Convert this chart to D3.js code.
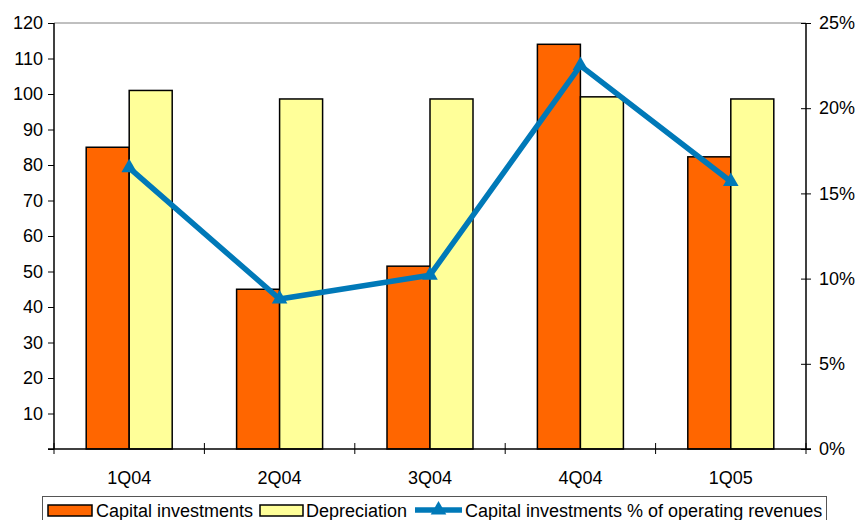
<!DOCTYPE html>
<html>
<head>
<meta charset="utf-8">
<script src="https://cdn.jsdelivr.net/npm/d3@7/dist/d3.min.js"></script>
<style>
  html, body { margin: 0; padding: 0; background: #fff; }
  svg { display: block; font-family: "Liberation Sans", Arial, sans-serif; }
</style>
</head>
<body>
<svg id="chart" width="857" height="520"></svg>
<script>
// Quarterly figures
const quarters = ["1Q04", "2Q04", "3Q04", "4Q04", "1Q05"];
const capitalInvestments = [85, 45, 51.5, 114, 82.3];
const depreciation = [101, 98.6, 98.6, 99.2, 98.6];
const capexPctRevenue = [16.5, 8.8, 10.2, 22.5, 15.7];
const leftTicks = [10, 20, 30, 40, 50, 60, 70, 80, 90, 100, 110, 120];
const rightTicks = [0, 5, 10, 15, 20, 25];

const seriesNames = ["Capital investments", "Depreciation", "Capital investments % of operating revenues"];
const colors = { capex: "#FF6600", dep: "#FFFF99", line: "#0079B8" };
const fs = 18;

const svg = d3.select("#chart");
const plotL = 54, plotR = 806, plotT = 23, plotB = 449;

const x = d3.scaleBand().domain(quarters).range([plotL, plotR]).paddingInner(0).paddingOuter(0);
const barW = 43;
const yL = d3.scaleLinear().domain([0, 120]).range([plotB, plotT]);
const yR = d3.scaleLinear().domain([0, 25]).range([plotB, plotT]);

// plot frame top line
svg.append("line").attr("x1", plotL).attr("x2", plotR).attr("y1", plotT).attr("y2", plotT)
  .attr("stroke", "#808080").attr("stroke-width", 1);

// bars
const g = svg.append("g");
quarters.forEach((q, i) => {
  const cx = x(q) + x.bandwidth() / 2;
  g.append("rect").attr("x", cx - barW).attr("width", barW)
    .attr("y", yL(capitalInvestments[i])).attr("height", yL(0) - yL(capitalInvestments[i]))
    .attr("fill", colors.capex).attr("stroke", "#000").attr("stroke-width", 1.5);
  g.append("rect").attr("x", cx).attr("width", barW)
    .attr("y", yL(depreciation[i])).attr("height", yL(0) - yL(depreciation[i]))
    .attr("fill", colors.dep).attr("stroke", "#000").attr("stroke-width", 1.5);
});

// left axis
const axL = svg.append("g").attr("transform", `translate(${plotL},0)`)
  .call(d3.axisLeft(yL).tickValues([0].concat(leftTicks)).tickSize(6).tickPadding(5)
    .tickFormat(d => d === 0 ? "" : d));
axL.selectAll("text").attr("font-size", fs).attr("fill", "#000").attr("font-family", "Liberation Sans, Arial, sans-serif");
axL.select(".domain").attr("stroke", "#000").attr("stroke-width", 1.5).attr("d", `M0,${plotT}V${plotB}`);
axL.selectAll(".tick line").attr("stroke", "#000");

// right axis
const axR = svg.append("g").attr("transform", `translate(${plotR},0)`)
  .call(d3.axisRight(yR).tickValues(rightTicks).tickSize(5).tickPadding(8).tickFormat(d => d + "%"));
axR.selectAll("text").attr("font-size", fs).attr("fill", "#000").attr("font-family", "Liberation Sans, Arial, sans-serif");
axR.select(".domain").attr("stroke", "#000").attr("stroke-width", 1.5).attr("d", `M0,${plotT}V${plotB}`);
axR.selectAll(".tick line").attr("stroke", "#000").attr("x1", -5);

// bottom axis
const axB = svg.append("g").attr("transform", `translate(0,${plotB})`);
axB.append("line").attr("x1", plotL - 6).attr("x2", plotR + 5).attr("stroke", "#000").attr("stroke-width", 1.5);
const bounds = quarters.map(q => x(q)).concat([plotR]);
axB.selectAll("line.tk").data(bounds).join("line").attr("class", "tk")
  .attr("x1", d => d).attr("x2", d => d).attr("y1", -6).attr("y2", 5)
  .attr("stroke", "#000").attr("stroke-width", 1);
axB.selectAll("text").data(quarters).join("text")
  .attr("x", d => x(d) + x.bandwidth() / 2).attr("y", 35)
  .attr("text-anchor", "middle").attr("font-size", fs).text(d => d);

// percentage line
const pts = quarters.map((q, i) => [x(q) + x.bandwidth() / 2, yR(capexPctRevenue[i])]);
svg.append("path").attr("d", d3.line()(pts)).attr("fill", "none")
  .attr("stroke", colors.line).attr("stroke-width", 5.5).attr("stroke-linejoin", "miter");
const tri = d3.symbol().type(d3.symbolTriangle).size(105);
svg.selectAll("path.mk").data(pts).join("path").attr("class", "mk")
  .attr("d", tri).attr("transform", d => `translate(${d[0]},${d[1]})`).attr("fill", colors.line);

// legend
const lg = svg.append("g");
lg.append("rect").attr("x", 42.5).attr("y", 496.5).attr("width", 784).attr("height", 30)
  .attr("fill", "#fff").attr("stroke", "#555").attr("stroke-width", 1);
const ly = 510;
lg.append("rect").attr("x", 48).attr("y", ly - 5).attr("width", 44).attr("height", 11)
  .attr("fill", colors.capex).attr("stroke", "#000").attr("stroke-width", 1.5);
lg.append("text").attr("x", 96).attr("y", ly + 6.5).attr("font-size", fs).text(seriesNames[0]);
lg.append("rect").attr("x", 260).attr("y", ly - 5).attr("width", 43).attr("height", 11)
  .attr("fill", colors.dep).attr("stroke", "#000").attr("stroke-width", 1.5);
lg.append("text").attr("x", 306).attr("y", ly + 6.5).attr("font-size", fs).text(seriesNames[1]);
lg.append("line").attr("x1", 415).attr("x2", 462).attr("y1", ly).attr("y2", ly)
  .attr("stroke", colors.line).attr("stroke-width", 5.5);
lg.append("path").attr("d", tri).attr("transform", `translate(438.5,${ly})`).attr("fill", colors.line);
lg.append("text").attr("x", 465).attr("y", ly + 6.5).attr("font-size", fs).text(seriesNames[2]);
</script>
</body>
</html>
